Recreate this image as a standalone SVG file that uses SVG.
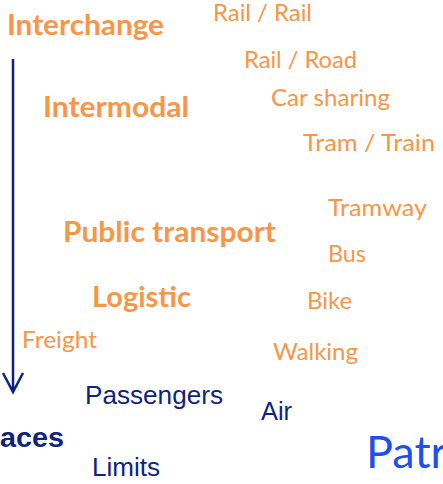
<svg xmlns="http://www.w3.org/2000/svg" width="443" height="484" viewBox="0 0 443 484">
<style>
.o{fill:#F79646;font-family:Lato,"Open Sans","Liberation Sans",sans-serif;font-size:23px}
.ob{fill:#F79646;font-family:Lato,"Open Sans","Liberation Sans",sans-serif;font-size:28px;font-weight:bold}
.n{fill:#0F2380;font-family:"Liberation Sans",Arial,sans-serif;font-size:25px}
.nb{fill:#0F2380;font-family:"Liberation Sans",Arial,sans-serif;font-size:28px;font-weight:bold}
.p{fill:#1F4FEF;font-family:Lato,"Open Sans",sans-serif;font-size:45px}
</style>
<rect width="443" height="484" fill="#fff"/>
<g id="connectors">
<path d="M13 59V392M3 373L13 392L23 373" fill="none" stroke="#0F2380" stroke-width="2.5"/>
</g>
<g id="interchange"><text class="ob" x="7" y="35" textLength="157" lengthAdjust="spacingAndGlyphs">Interchange</text></g>
<g id="intermodal"><text class="ob" x="43" y="117" textLength="146" lengthAdjust="spacingAndGlyphs">Intermodal</text></g>
<g id="public-transport"><text class="ob" x="63" y="242" textLength="213" lengthAdjust="spacingAndGlyphs">Public transport</text></g>
<g id="logistic"><text class="ob" x="92" y="307" textLength="99" lengthAdjust="spacingAndGlyphs">Logistic</text></g>
<g id="rail-rail"><text class="o" x="213" y="21" textLength="99" lengthAdjust="spacingAndGlyphs">Rail / Rail</text></g>
<g id="rail-road"><text class="o" x="244" y="68" textLength="113" lengthAdjust="spacingAndGlyphs">Rail / Road</text></g>
<g id="car-sharing"><text class="o" x="271" y="106" textLength="119" lengthAdjust="spacingAndGlyphs">Car sharing</text></g>
<g id="tram-train"><text class="o" x="303" y="151" textLength="132" lengthAdjust="spacingAndGlyphs">Tram / Train</text></g>
<g id="tramway"><text class="o" x="328" y="216" textLength="99" lengthAdjust="spacingAndGlyphs">Tramway</text></g>
<g id="bus"><text class="o" x="328" y="262" textLength="38" lengthAdjust="spacingAndGlyphs">Bus</text></g>
<g id="bike"><text class="o" x="307" y="309" textLength="45" lengthAdjust="spacingAndGlyphs">Bike</text></g>
<g id="freight"><text class="o" x="22" y="348" textLength="75" lengthAdjust="spacingAndGlyphs">Freight</text></g>
<g id="walking"><text class="o" x="273" y="360" textLength="85" lengthAdjust="spacingAndGlyphs">Walking</text></g>
<g id="passengers"><text class="n" x="85" y="404" textLength="138" lengthAdjust="spacingAndGlyphs">Passengers</text></g>
<g id="air"><text class="n" x="261" y="420" textLength="31" lengthAdjust="spacingAndGlyphs">Air</text></g>
<g id="aces"><text class="nb" x="0" y="447" textLength="64" lengthAdjust="spacingAndGlyphs">aces</text></g>
<g id="limits"><text class="n" x="92" y="476" textLength="68" lengthAdjust="spacingAndGlyphs">Limits</text></g>
<g id="patr"><text class="p" x="366" y="468">Patr</text></g>
</svg>
